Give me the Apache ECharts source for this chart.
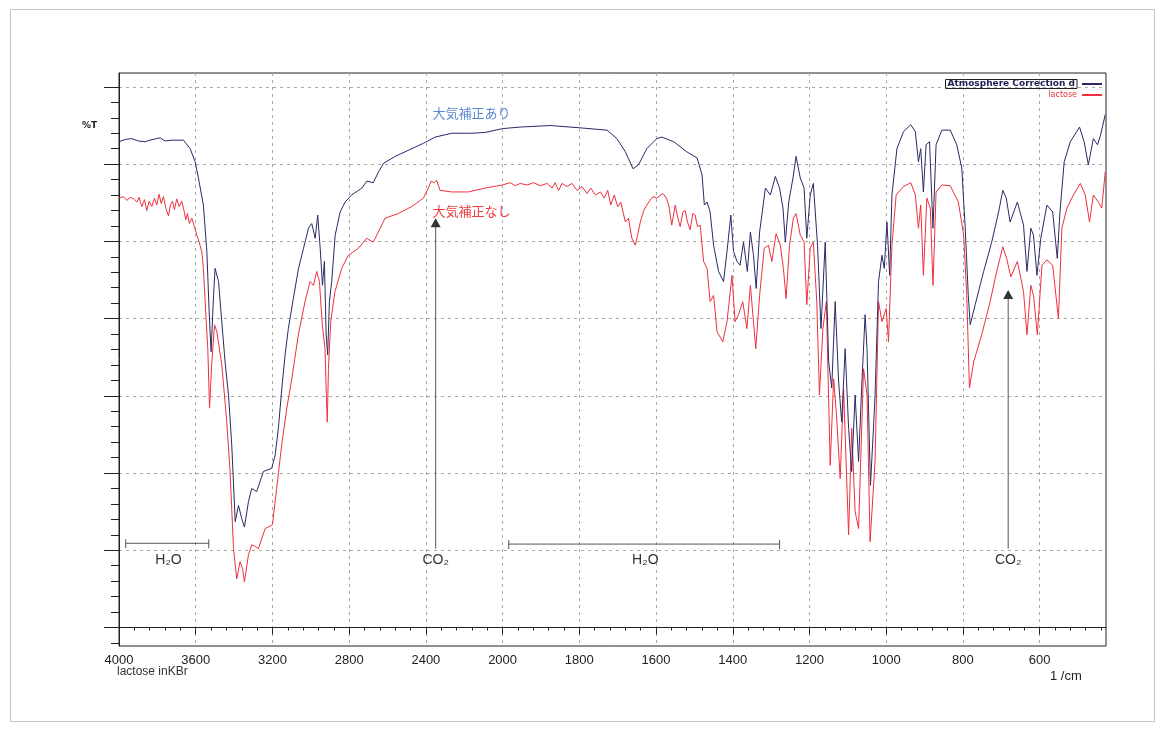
<!DOCTYPE html>
<html>
<head>
<meta charset="utf-8">
<title>lactose in KBr</title>
<script src="https://cdn.jsdelivr.net/npm/echarts@6/dist/echarts.min.js"></script>
<style>
html, body { margin: 0; padding: 0; background: #fff; }
#chart { width: 1165px; height: 735px; }
</style>
</head>
<body>
<div id="chart"></div>
<script>
// [wavenumber 1/cm, %T]
const corrected = [
  [4000,62.9],[3967,63.2],[3933,63.3],[3900,63.0],[3863,62.9],[3840,63.1],[3785,63.4],[3760,63.0],[3725,63.1],[3664,63.1],
  [3629,62.0],[3603,60.3],[3586,58.2],[3560,54.7],[3542,48.7],[3530,40.9],[3520,35.7],[3507,43.0],[3499,46.5],[3481,44.8],
  [3464,39.6],[3447,34.4],[3429,30.1],[3412,23.6],[3394,13.7],[3377,15.8],[3360,14.1],[3346,13.0],[3325,16.3],[3308,18.0],
  [3282,17.6],[3247,20.2],[3204,20.6],[3186,22.3],[3169,25.8],[3151,31.0],[3134,35.3],[3117,38.7],[3091,42.6],[3064,46.5],
  [3038,49.1],[3012,51.7],[2995,52.3],[2977,50.4],[2964,53.4],[2951,49.1],[2939,44.3],[2929,47.4],[2920,37.9],[2912,35.3],
  [2903,42.2],[2891,44.8],[2873,50.8],[2847,53.8],[2821,55.1],[2787,56.0],[2734,56.9],[2708,57.8],[2674,57.6],[2647,59.0],
  [2621,60.1],[2560,61.0],[2491,61.8],[2413,62.7],[2352,63.5],[2265,64.0],[2161,64.0],[2091,64.1],[2000,64.6],
  [1954,64.8],[1876,65.0],[1798,64.7],[1728,64.4],[1702,63.3],[1680,61.6],[1660,59.4],[1646,59.9],[1624,62.0],[1598,63.3],
  [1585,63.5],[1554,62.9],[1520,61.6],[1493,60.8],[1480,58.6],[1474,54.7],[1467,55.1],[1459,53.8],[1450,49.5],[1437,46.1],
  [1424,44.8],[1415,48.7],[1405,53.4],[1398,48.7],[1389,47.4],[1381,46.9],[1372,49.9],[1362,46.1],[1354,51.2],[1346,48.2],
  [1339,43.9],[1330,51.2],[1315,56.9],[1302,56.0],[1289,58.4],[1278,56.9],[1269,54.3],[1263,49.9],[1254,55.1],[1243,58.2],
  [1235,61.0],[1224,58.2],[1214,56.9],[1207,50.4],[1198,56.0],[1190,57.5],[1179,49.5],[1170,38.7],[1159,49.9],[1150,34.4],
  [1142,31.0],[1133,42.2],[1124,31.8],[1116,26.6],[1107,36.1],[1098,25.8],[1090,20.2],[1081,30.1],[1072,21.5],[1064,31.0],
  [1055,40.5],[1050,36.1],[1041,18.4],[1033,26.0],[1029,30.1],[1020,44.8],[1011,48.2],[1005,46.5],[998,52.5],[991,45.6],
  [985,56.0],[972,62.0],[955,64.2],[936,65.1],[924,64.2],[916,60.3],[910,62.0],[903,56.4],[896,62.5],[887,62.9],
  [878,51.7],[870,62.5],[855,64.4],[833,64.4],[816,62.5],[803,59.5],[794,51.7],[786,43.0],[781,39.2],[768,41.8],
  [746,46.1],[725,49.9],[707,53.8],[696,56.6],[687,55.6],[677,52.5],[658,55.1],[642,52.1],[633,46.1],[623,51.7],
  [616,50.8],[607,45.6],[597,50.4],[581,54.7],[566,53.8],[554,47.8],[547,53.8],[536,60.3],[520,62.9],[496,64.8],
  [484,62.9],[473,59.9],[460,63.3],[449,62.5],[441,63.8],[429,66.4]
];

const uncorrected = [
  [4000,55.6],[3977,55.8],[3959,55.3],[3942,55.7],[3924,55.5],[3907,55.1],[3895,55.7],[3881,54.5],[3867,55.4],[3855,54.0],
  [3843,55.2],[3829,54.5],[3815,55.6],[3803,54.7],[3791,56.1],[3780,54.9],[3768,55.8],[3756,54.3],[3742,53.3],[3732,54.7],
  [3721,55.2],[3711,54.1],[3699,55.5],[3686,54.5],[3673,55.2],[3662,54.1],[3652,52.8],[3643,53.6],[3633,52.3],[3620,53.0],
  [3607,51.9],[3594,50.8],[3582,49.9],[3568,48.6],[3560,46.5],[3548,40.9],[3537,36.1],[3528,28.4],[3516,34.4],[3502,39.2],
  [3490,38.3],[3464,34.0],[3438,26.6],[3421,20.2],[3403,10.2],[3386,6.3],[3369,8.5],[3356,7.6],[3346,5.9],[3325,9.4],
  [3308,10.7],[3290,10.5],[3273,10.2],[3238,12.8],[3200,13.3],[3178,18.0],[3152,23.6],[3125,28.4],[3099,32.2],[3065,37.9],
  [3030,42.2],[3004,44.8],[2986,44.3],[2969,46.1],[2955,44.8],[2940,39.2],[2926,36.1],[2919,30.1],[2914,26.6],[2908,33.5],
  [2896,39.6],[2874,43.5],[2839,46.5],[2804,48.2],[2752,49.1],[2709,50.4],[2674,49.9],[2648,51.2],[2613,53.0],[2544,53.6],
  [2474,54.5],[2413,55.6],[2387,56.9],[2373,57.8],[2356,57.6],[2344,57.9],[2326,56.6],[2266,56.4],[2179,56.4],[2092,56.9],
  [2000,57.3],
  [1980,57.6],[1967,57.2],[1954,57.5],[1936,57.3],[1919,57.6],[1902,57.2],[1884,57.5],[1871,56.9],[1863,57.6],[1854,56.6],
  [1845,57.5],[1832,57.1],[1819,57.5],[1806,56.6],[1793,57.1],[1780,56.2],[1770,56.9],[1758,56.0],[1745,56.4],[1735,55.6],
  [1726,56.6],[1718,54.7],[1709,56.0],[1700,54.5],[1692,55.1],[1680,52.5],[1672,53.0],[1663,50.4],[1654,49.5],[1648,50.8],
  [1641,52.5],[1632,54.0],[1619,55.1],[1608,55.8],[1598,55.6],[1582,56.2],[1573,55.6],[1567,54.7],[1559,52.1],[1550,54.7],
  [1543,53.0],[1537,51.9],[1530,53.8],[1524,54.0],[1518,52.5],[1511,51.5],[1504,53.6],[1498,53.4],[1492,51.9],[1485,52.1],
  [1476,47.4],[1467,46.5],[1459,42.2],[1450,43.0],[1441,38.3],[1426,37.0],[1415,39.6],[1402,45.6],[1394,39.6],[1385,40.5],
  [1374,42.2],[1363,38.7],[1354,44.3],[1346,39.6],[1340,36.1],[1330,43.0],[1318,49.1],[1307,49.5],[1298,47.4],[1287,51.0],
  [1276,49.5],[1268,46.5],[1261,42.6],[1252,49.5],[1242,53.0],[1235,53.6],[1224,50.8],[1214,49.9],[1207,41.8],[1198,49.1],
  [1190,49.9],[1181,42.2],[1174,30.1],[1165,38.7],[1156,42.2],[1146,21.0],[1137,32.2],[1129,27.1],[1120,19.3],[1111,30.9],
  [1098,12.0],[1090,25.8],[1081,15.0],[1072,12.8],[1059,33.5],[1050,30.1],[1042,11.1],[1029,21.5],[1020,42.2],[1011,39.6],
  [1000,41.3],[994,37.0],[985,49.5],[974,56.0],[955,57.1],[936,57.6],[924,56.0],[916,51.7],[910,54.7],[903,45.6],
  [894,55.6],[885,54.3],[878,44.3],[870,56.4],[855,57.3],[833,57.2],[812,55.1],[798,50.8],[790,43.0],[783,31.0],
  [772,34.4],[751,37.9],[729,42.2],[712,46.1],[696,49.3],[686,47.8],[675,45.4],[658,47.4],[642,43.5],[633,37.9],
  [623,44.3],[616,43.0],[606,37.9],[594,46.9],[581,47.6],[566,46.9],[551,40.0],[542,51.7],[529,54.3],[512,56.0],
  [494,57.5],[481,56.0],[470,52.5],[460,56.0],[447,55.1],[438,54.3],[429,59.0]
];

// labelled wavenumbers on the bottom axis
const xTickWn = [4000, 3600, 3200, 2800, 2400, 2000, 1800, 1600, 1400, 1200, 1000, 800, 600];
const yTickT = [0, 10, 20, 30, 40, 50, 60, 70];

// CO2 arrows: wavenumber, foot, tip (%T)
const co2Arrows = [[2349, 10.2, 53.0], [682, 10.2, 43.7]];
// H2O bands: from, to (1/cm), level (%T)
const h2oBands = [[3965, 3532, 10.9], [1984, 1278, 10.8]];
// text notes: text, wavenumber, %T, colour, anchor
const notes = [
  ['H\u2082O', 3742, 8.7, '#333', 'center'],
  ['CO\u2082', 2349, 8.7, '#333', 'center'],
  ['H\u2082O', 1628, 8.7, '#333', 'center'],
  ['CO\u2082', 682, 8.7, '#333', 'center'],
  ['大気補正あり', 2366, 66.6, '#5b88d2', 'left'],
  ['大気補正なし', 2366, 53.9, '#ee3a3a', 'left']
];

// 4000-2000 is drawn at half the scale of 2000-400, one axis unit per labelled tick
function toPos(wn) {
  return wn >= 2000 ? (4000 - wn) / 400 : 5 + (2000 - wn) / 200;
}
function toWn(pos) {
  return pos <= 5 ? 4000 - pos * 400 : 2000 - (pos - 5) * 200;
}

const xTickPos = xTickWn.map(toPos);

function renderArrow(params, api) {
  const foot = api.coord([api.value(0), api.value(1)]);
  const tip = api.coord([api.value(0), api.value(2)]);
  return {
    type: 'group',
    children: [
      { type: 'line', shape: { x1: foot[0], y1: foot[1], x2: tip[0], y2: tip[1] + 8 },
        style: { stroke: '#555', lineWidth: 1 } },
      { type: 'polygon', shape: { points: [[tip[0], tip[1]], [tip[0] - 5, tip[1] + 9], [tip[0] + 5, tip[1] + 9]] },
        style: { fill: '#333' } }
    ]
  };
}

function renderBand(params, api) {
  const a = api.coord([api.value(0), api.value(2)]);
  const b = api.coord([api.value(1), api.value(2)]);
  const st = { stroke: '#555', lineWidth: 1 };
  return {
    type: 'group',
    children: [
      { type: 'line', shape: { x1: a[0], y1: a[1], x2: b[0], y2: b[1] }, style: st },
      { type: 'line', shape: { x1: a[0], y1: a[1] - 4, x2: a[0], y2: a[1] + 5 }, style: st },
      { type: 'line', shape: { x1: b[0], y1: b[1] - 4, x2: b[0], y2: b[1] + 5 }, style: st }
    ]
  };
}

function renderNote(params, api) {
  const n = notes[params.dataIndex];
  const p = api.coord([api.value(0), api.value(1)]);
  const cjk = n[4] === 'left';
  return {
    type: 'text',
    style: {
      text: n[0], x: p[0], y: p[1],
      fill: n[3],
      font: cjk ? '13px "Noto Sans CJK JP"' : '14px "Liberation Sans"',
      align: n[4], verticalAlign: 'middle'
    }
  };
}

const chart = echarts.init(document.getElementById('chart'));

const dashed = { color: '#a8a8a8', type: [3, 4], width: 1 };

chart.setOption({
  animation: false,
  backgroundColor: '#fff',
  grid: { left: 119, right: 59, top: 73, bottom: 89, show: true, borderColor: '#222', borderWidth: 1 },
  legend: {
    orient: 'vertical', right: 58, top: 74, align: 'right',
    itemGap: 2, itemWidth: 20, itemHeight: 2, icon: 'rect',
    textStyle: { fontSize: 8, fontFamily: 'DejaVu Sans' },
    data: [
      { name: 'Atmosphere Correction d',
        textStyle: { color: '#1e1e55', fontSize: 9, fontWeight: 'bold', borderColor: '#222', borderWidth: 1, padding: [0, 2] } },
      { name: 'lactose', textStyle: { color: '#e8303c' } }
    ]
  },
  xAxis: {
    type: 'value', min: 0, max: toPos(427), interval: 1,
    axisLine: { lineStyle: { color: '#222' } },
    axisTick: { length: 7, customValues: xTickPos, lineStyle: { color: '#222' } },
    minorTick: { show: true, splitNumber: 5, length: 3, lineStyle: { color: '#222' } },
    axisLabel: {
      customValues: xTickPos, margin: 8, fontSize: 13, color: '#222', fontFamily: 'Liberation Sans',
      formatter: v => (Math.abs(v - Math.round(v)) < 1e-6 ? String(toWn(Math.round(v))) : '')
    },
    splitLine: { show: true, lineStyle: dashed }
  },
  yAxis: {
    type: 'value', min: -2.4, max: 71.8, splitNumber: 7,
    axisLine: { show: true, lineStyle: { color: '#222' } },
    axisTick: { show: true, length: 15, customValues: yTickT, lineStyle: { color: '#222' } },
    minorTick: { show: true, splitNumber: 5, length: 8, lineStyle: { color: '#222' } },
    axisLabel: { show: false },
    splitLine: { show: true, lineStyle: dashed }
  },
  graphic: [
    { type: 'rect', shape: { x: 10.5, y: 9.5, width: 1144, height: 712 }, style: { fill: 'none', stroke: '#c4c4c4' } },
    { type: 'text', left: 82, top: 121, style: { text: '%T', font: 'bold 9px "DejaVu Sans"', fill: '#222' } },
    { type: 'text', left: 117, top: 666, style: { text: 'lactose inKBr', font: '12px "Liberation Sans"', fill: '#333' } },
    { type: 'text', left: 1050, top: 670, style: { text: '1 /cm', font: '13px "Liberation Sans"', fill: '#222' } }
  ],
  series: [
    {
      name: 'lactose', type: 'line', showSymbol: false, z: 2,
      lineStyle: { color: '#f0303e', width: 1 }, itemStyle: { color: '#f0303e' },
      data: uncorrected.map(d => [toPos(d[0]), d[1]])
    },
    {
      name: 'Atmosphere Correction d', type: 'line', showSymbol: false, z: 3,
      lineStyle: { color: '#2a2a66', width: 1 }, itemStyle: { color: '#2a2a66' },
      data: corrected.map(d => [toPos(d[0]), d[1]])
    },
    {
      type: 'custom', renderItem: renderArrow, z: 4, silent: true,
      encode: { x: 0, y: [1, 2] },
      data: co2Arrows.map(a => [toPos(a[0]), a[1], a[2]])
    },
    {
      type: 'custom', renderItem: renderBand, z: 4, silent: true,
      encode: { x: [0, 1], y: 2 },
      data: h2oBands.map(b => [toPos(b[0]), toPos(b[1]), b[2]])
    },
    {
      type: 'custom', renderItem: renderNote, z: 5, silent: true,
      encode: { x: 0, y: 1 },
      data: notes.map(n => [toPos(n[1]), n[2]])
    }
  ]
});
</script>
</body>
</html>
